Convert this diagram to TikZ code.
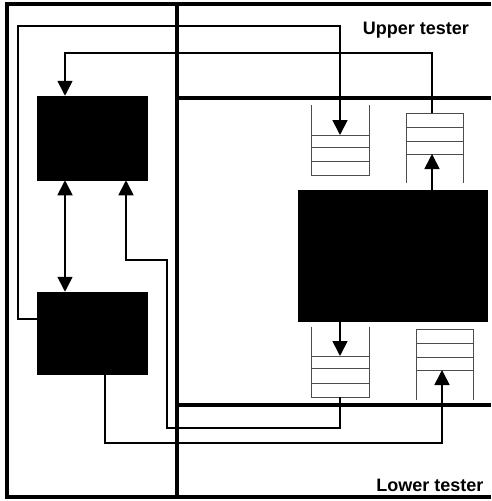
\documentclass[tikz,border=0pt]{standalone}
\usepackage{fontspec}
\setmainfont{Liberation Sans}
\usetikzlibrary{arrows.meta}
\begin{document}
\begin{tikzpicture}[x=1pt,y=-1pt,
  frame/.style={line width=3.4pt},
  conn/.style={line width=1.7pt},
  tip/.style={-{Triangle[width=15pt,length=15pt]}},
  blk/.style={draw=black,fill=black,inner sep=0pt,line width=0.5pt},
  qline/.style={line width=0.9pt,black!70},
  lbl/.style={font=\bfseries\fontsize{18}{20}\selectfont,inner sep=0pt}]
\useasboundingbox[fill=white] (0,0) rectangle (491,501);
% frames
\draw[frame] (491,4) -- (7,4) -- (7,497) -- (491,497);
\draw[frame] (177,4) -- (177,497);
\draw[frame] (177,98) -- (491,98);
\draw[frame] (177,405) -- (491,405);
% labels
\node[lbl] (ut) at (416,30) {Upper tester};
\node[lbl] (lt) at (430,485) {Lower tester};
% blocks
\node[blk,minimum width=110pt,minimum height=84pt] (ul) at (92,138) {};
\node[blk,minimum width=110pt,minimum height=82pt] (ll) at (92,333) {};
\node[blk,minimum width=189pt,minimum height=131pt] (big) at (392.5,255.5) {};
% queues
\draw[qline] (311,105) -- (311,175) -- (369,175) -- (369,105);
\foreach \y in {135,147,161} \draw[qline] (311,\y) -- (369,\y);
\draw[qline] (406,183) -- (406,113) -- (463,113) -- (463,183);
\foreach \y in {127,141,154} \draw[qline] (406,\y) -- (463,\y);
\draw[qline] (311,327) -- (311,397) -- (369,397) -- (369,327);
\foreach \y in {356,368,383} \draw[qline] (311,\y) -- (369,\y);
\draw[qline] (416,400) -- (416,329) -- (473,329) -- (473,400);
\foreach \y in {343,357,370} \draw[qline] (416,\y) -- (473,\y);
% queue coordinates
\coordinate (q1in) at (340,135);
\coordinate (q2top) at (432,113);
\coordinate (q2in) at (432,154);
\coordinate (q3in) at (340,356);
\coordinate (q3bot) at (340,397);
\coordinate (q4in) at (442,370);
% connectors
\draw[conn,tip] ([yshift=14pt]ll.west) -- (18,319) -- (18,26) -- (340,26) -- (q1in);
\draw[conn,tip] (q2top) -- (432,53) -- (65,53) -- (ul.north -| 65,0);
\draw[conn,{Triangle[width=15pt,length=15pt]}-{Triangle[width=15pt,length=15pt]}] (ul.south -| 65,0) -- (ll.north -| 65,0);
\draw[conn,tip] (big.north -| q2in) -- (q2in);
\draw[conn,tip] (big.south -| q3in) -- (q3in);
\draw[conn,tip] (q3bot) -- (340,428) -- (167,428) -- (167,260) -- (126,260) -- (ul.south -| 126,0);
\draw[conn,tip] (ll.south -| 105,0) -- (105,443) -- (442,443) -- (q4in);
\end{tikzpicture}
\end{document}
